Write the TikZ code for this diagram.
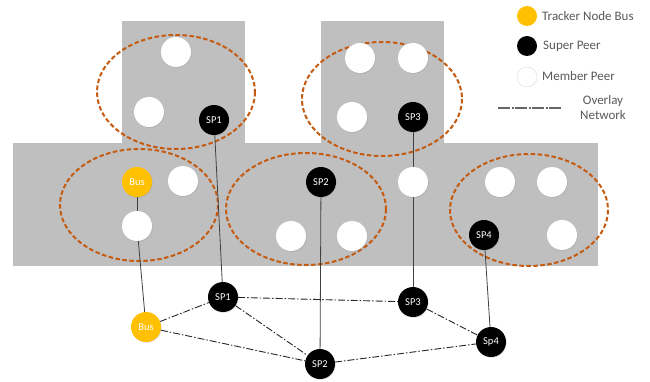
\documentclass[tikz,border=0pt]{standalone}
\usepackage{fontspec}
\setmainfont{Carlito}
\usetikzlibrary{shadows}
\definecolor{greyarea}{HTML}{BFBFBF}
\definecolor{clorange}{HTML}{C55A11}
\definecolor{busyellow}{HTML}{FFC000}
\definecolor{legtext}{HTML}{595959}
\begin{document}
\begin{tikzpicture}[x=1pt,y=-1pt,
  peer/.style={circle,minimum size=30pt,inner sep=0pt,draw=none,font=\fontsize{10.5}{11}\selectfont,text=white,
    drop shadow={shadow xshift=0.6pt,shadow yshift=-0.8pt,opacity=0.25}},
  member/.style={peer,fill=white},
  super/.style={peer,fill=black},
  bus/.style={peer,fill=busyellow},
  cluster/.style={draw=clorange,line width=2pt,dash pattern=on 4.5pt off 2.5pt},
  link/.style={draw=black!75,line width=0.8pt},
  overlay/.style={draw=black!85,line width=0.9pt,dash pattern=on 7pt off 2pt on 1.5pt off 2pt},
  legendtxt/.style={text=legtext,font=\fontsize{13}{15}\selectfont,anchor=west,inner sep=0pt},
  legdot/.style={circle,minimum size=20pt,inner sep=0pt}
]
\useasboundingbox (0,0) rectangle (650,382);
% grey areas
\fill[greyarea] (122,21) rectangle (245,143);
\fill[greyarea] (321,21) rectangle (444,143);
\fill[greyarea] (13,143) rectangle (598,266);

% clusters
\draw[cluster] (176,92) ellipse [x radius=79,y radius=57];
\draw[cluster] (382,99) ellipse [x radius=80,y radius=57];
\draw[cluster] (139,205) ellipse [x radius=79,y radius=56];
\draw[cluster] (306,209) ellipse [x radius=80,y radius=56];
\draw[cluster] (529,210) ellipse [x radius=79,y radius=56];

% cluster members
\node[member] (m1) at (176,52) {};
\node[member] (m2) at (149,112) {};
\node[super]  (sp1t) at (214,120) {SP1};

\node[bus]    (bust) at (137,182) {Bus};
\node[member] (m3) at (183,181) {};
\node[member] (m4) at (137,226) {};

\node[super]  (sp2t) at (321,182) {SP2};
\node[member] (m5) at (291,236) {};
\node[member] (m6) at (352,236) {};

\node[member] (m7) at (360,58) {};
\node[member] (m8) at (413,58) {};
\node[member] (m9) at (352,117) {};
\node[super]  (sp3t) at (413,117) {SP3};
\node[member] (m10) at (413,182) {};

\node[member] (m11) at (500,182) {};
\node[member] (m12) at (552,182) {};
\node[member] (m13) at (562,235) {};
\node[super]  (sp4t) at (484,235) {SP4};

% overlay nodes
\node[bus]   (bus) at (146,327) {Bus};
\node[super] (sp1) at (223,297) {SP1};
\node[super] (sp2) at (320,364) {SP2};
\node[super] (sp3) at (413,302) {SP3};
\node[super] (sp4) at (491,342) {Sp4};

% vertical links
\draw[link] (sp1t) -- (sp1);
\draw[link] (bust) -- (m4);
\draw[link] (m4) -- (bus);
\draw[link] (sp2t) -- (sp2);
\draw[link] (sp3t) -- (m10);
\draw[link] (m10) -- (sp3);
\draw[link] (sp4t) -- (sp4);

% overlay links
\draw[overlay] (bus) -- (sp1);
\draw[overlay] (bus) -- (sp2);
\draw[overlay] (sp1) -- (sp3);
\draw[overlay] (sp1) -- (sp2);
\draw[overlay] (sp3) -- (sp4);
\draw[overlay] (sp2) -- (sp4);

% legend
\node[legdot,fill=busyellow] (lg1) at (527,16) {};
\node[legdot,fill=black] (lg2) at (527,46) {};
\node[legdot,fill=white,draw=black!15] (lg3) at (527,77) {};
\node[legendtxt] (lt1) at (542,16) {Tracker Node Bus};
\node[legendtxt] (lt2) at (543,46) {Super Peer};
\node[legendtxt] (lt3) at (542,76) {Member Peer};
\coordinate (la) at (498,108);
\coordinate (lb) at (561,108);
\draw[draw=black!60,line width=1.6pt,dash pattern=on 12pt off 1.5pt on 2pt off 1.5pt] (la) -- (lb);
\node[text=legtext,font=\fontsize{13}{15}\selectfont,align=center,inner sep=0pt] (lt4) at (603,108) {Overlay\\Network};
\end{tikzpicture}
\end{document}
